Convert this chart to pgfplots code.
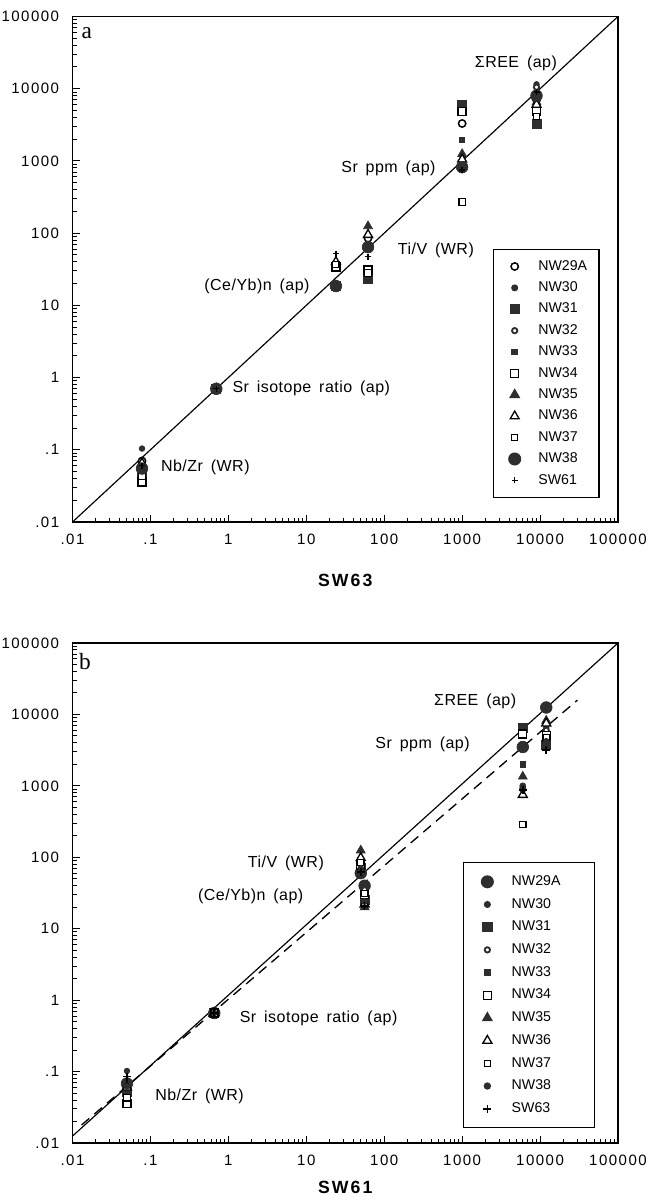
\documentclass[border=0pt]{standalone}
\usepackage{fontspec}
\setmainfont{Liberation Sans}
\newfontfamily\tickfont[LetterSpace=10]{Liberation Sans}
\newfontfamily\annfont[LetterSpace=3,WordSpace=1.6]{Liberation Sans}
\newfontfamily\labfont[LetterSpace=12]{Liberation Sans}
\newfontfamily\seriffont{Liberation Serif}
\usepackage{pgfplots}
\pgfplotsset{compat=1.18}
\definecolor{mk}{gray}{0.18}
\newcommand{\LB}[1]{\makebox[42.8pt][l]{#1}}
\newcommand{\LA}[1]{\makebox[29.2pt][l]{#1}}
\newcommand{\LIa}[1]{\path[draw=none, fill=none] (0pt,0pt) -- (15.2pt,0pt); \draw[#1, only marks] plot coordinates {(7.6pt,0pt)};}
\newcommand{\LIb}[1]{\path[draw=none, fill=none] (0pt,0pt) -- (18.8pt,0pt); \draw[#1, only marks] plot coordinates {(9.4pt,0pt)};}
\pgfplotsset{
  la/.style={only marks, legend image code/.code={\LIa{##1}}},
  lb/.style={only marks, legend image code/.code={\LIb{##1}}},
  mOC/.style={mark=*, mark size=2.2pt, mark options={fill=white, draw=black, line width=0.9pt}},
  mD/.style={mark=*, mark size=1.7pt, mark options={fill=mk, draw=mk}},
  mFS/.style={mark=square*, mark size=2.7pt, mark options={fill=mk, draw=mk}},
  mRD/.style={mark=*, mark size=1.6pt, mark options={fill=white, draw=mk, line width=1.1pt}},
  mSS/.style={mark=square*, mark size=1.6pt, mark options={fill=mk, draw=mk}},
  mOS/.style={mark=square*, mark size=2.4pt, mark options={fill=white, draw=black, line width=0.8pt}},
  mFT/.style={mark=triangle*, mark size=3.1pt, mark options={fill=mk, draw=mk}},
  mOT/.style={mark=triangle*, mark size=3.1pt, mark options={fill=white, draw=black, line width=0.8pt}},
  mSO/.style={mark=square*, mark size=1.9pt, mark options={fill=white, draw=black, line width=0.7pt}},
  mBD/.style={mark=*, mark size=3.5pt, mark options={fill=mk, draw=mk}},
  mP/.style={mark=+, mark size=1.8pt, mark options={draw=black, line width=0.8pt}},
  mPb/.style={mark=+, mark size=2.4pt, mark options={draw=black, line width=1pt}},
}
\begin{document}
\begin{tikzpicture}
\useasboundingbox (0,0) rectangle (389.4pt,-720pt);
% ---------------- panel a ----------------
\begin{axis}[scale only axis, width=327.3pt, height=303.3pt, anchor=north west, at={(43.5pt,-9.9pt)},
    xmode=log, ymode=log, xmin=0.01, xmax=100000, ymin=0.01, ymax=100000,
    xtick={0.01,0.1,1,10,100,1000,10000,100000},
    ytick={0.01,0.1,1,10,100,1000,10000,100000},
    xticklabels={.01,.1,1,10,100,1000,10000,100000},
    yticklabels={.01,.1,1,10,100,1000,10000,100000},
    minor xtick={0.02,0.03,0.04,0.05,0.06,0.07,0.08,0.09,0.2,0.3,0.4,0.5,0.6,0.7,0.8,0.9,2,3,4,5,6,7,8,9,20,30,40,50,60,70,80,90,200,300,400,500,600,700,800,900,2000,3000,4000,5000,6000,7000,8000,9000,20000,30000,40000,50000,60000,70000,80000,90000},
    minor ytick={0.02,0.03,0.04,0.05,0.06,0.07,0.08,0.09,0.2,0.3,0.4,0.5,0.6,0.7,0.8,0.9,2,3,4,5,6,7,8,9,20,30,40,50,60,70,80,90,200,300,400,500,600,700,800,900,2000,3000,4000,5000,6000,7000,8000,9000,20000,30000,40000,50000,60000,70000,80000,90000},
    xtick pos=bottom, ytick pos=left,
    tick label style={font=\tickfont\fontsize{9}{9}\selectfont},
    /pgf/number format/assume math mode=true,
    xticklabel style={yshift=-3.5pt},
    yticklabel style={xshift=-4.5pt},
    axis line style={line width=0.8pt},
    major tick length=4.5pt, minor tick length=2.5pt,
    tick style={black, line width=0.6pt},
    legend cell align=left,
    clip=false,
    xlabel={SW63},
    xlabel style={font=\labfont\bfseries\fontsize{10.6}{10.6}\selectfont, at={(axis description cs:0.5,0)}, anchor=center, yshift=-35pt},
    legend style={at={(0.7703,0.540)}, anchor=north west, draw=black, line width=0.8pt,
    fill=white, inner xsep=5.2pt, inner ysep=4.35pt, row sep=1.4pt, column sep=4.6pt,
    font=\fontsize{8.5}{8.5}\selectfont}]
\addplot[black, line width=0.7pt, forget plot] coordinates {(0.01,0.01) (100000,100000)};
\addplot[la, mOC] coordinates {(0.078,0.070) (0.7,0.7) (24,19) (62,85) (1000,3300) (9000,7000)};
\addlegendentry{\LA{NW29A}}
\addplot[la, mD] coordinates {(0.078,0.104) (0.7,0.7) (24,19.5) (62,66) (1000,800) (9000,11500)};
\addlegendentry{\LA{NW30}}
\addplot[la, mFS] coordinates {(0.078,0.050) (0.7,0.7) (24,18.5) (62,23) (1000,5900) (9000,3300)};
\addlegendentry{\LA{NW31}}
\addplot[la, mRD] coordinates {(0.078,0.060) (0.7,0.7) (24,19) (62,70) (1000,760) (9000,10500)};
\addlegendentry{\LA{NW32}}
\addplot[la, mSS] coordinates {(0.078,0.047) (0.7,0.7) (24,20) (62,25) (1000,1950) (9000,3600)};
\addlegendentry{\LA{NW33}}
\addplot[la, mOS] coordinates {(0.078,0.036) (0.7,0.7) (24,34) (62,31) (1000,4800) (9000,4800)};
\addlegendentry{\LA{NW34}}
\addplot[la, mFT] coordinates {(0.078,0.058) (0.7,0.7) (24,19) (62,125) (1000,1250) (9000,6500)};
\addlegendentry{\LA{NW35}}
\addplot[la, mOT] coordinates {(0.078,0.065) (0.7,0.7) (24,40) (62,95) (1000,1050) (9000,6000)};
\addlegendentry{\LA{NW36}}
\addplot[la, mSO] coordinates {(0.078,0.043) (0.7,0.7) (24,37) (62,28) (1000,270) (9000,4100)};
\addlegendentry{\LA{NW37}}
\addplot[la, mBD] coordinates {(0.078,0.055) (0.7,0.7) (24,18.5) (62,64) (1000,820) (9000,8000)};
\addlegendentry{\LA{NW38}}
\addplot[la, mP] coordinates {(0.078,0.060) (0.7,0.7) (24,52) (62,47) (1000,750) (9000,9000)};
\addlegendentry{\LA{SW61}}
\node[font=\seriffont\fontsize{14}{14}\selectfont] at (axis description cs:0.026,0.967) {a};
\node[font=\annfont\fontsize{9.6}{9.6}\selectfont] at (axis cs:4900,22700) {ΣREE (ap)};
\node[font=\annfont\fontsize{9.6}{9.6}\selectfont, anchor=east] at (axis cs:543,780) {Sr ppm (ap)};
\node[font=\annfont\fontsize{9.6}{9.6}\selectfont, anchor=west] at (axis cs:126,57.8) {Ti/V (WR)};
\node[font=\annfont\fontsize{9.6}{9.6}\selectfont, anchor=east] at (axis cs:13.1,18.3) {(Ce/Yb)n (ap)};
\node[font=\annfont\fontsize{9.6}{9.6}\selectfont, anchor=west] at (axis cs:0.95,0.71) {Sr isotope ratio (ap)};
\node[font=\annfont\fontsize{9.6}{9.6}\selectfont, anchor=west] at (axis cs:0.115,0.058) {Nb/Zr (WR)};
\end{axis}
% ---------------- panel b ----------------
\begin{axis}[scale only axis, width=327.3pt, height=300pt, anchor=north west, at={(43.5pt,-385.8pt)},
    xmode=log, ymode=log, xmin=0.01, xmax=100000, ymin=0.01, ymax=100000,
    xtick={0.01,0.1,1,10,100,1000,10000,100000},
    ytick={0.01,0.1,1,10,100,1000,10000,100000},
    xticklabels={.01,.1,1,10,100,1000,10000,100000},
    yticklabels={.01,.1,1,10,100,1000,10000,100000},
    minor xtick={0.02,0.03,0.04,0.05,0.06,0.07,0.08,0.09,0.2,0.3,0.4,0.5,0.6,0.7,0.8,0.9,2,3,4,5,6,7,8,9,20,30,40,50,60,70,80,90,200,300,400,500,600,700,800,900,2000,3000,4000,5000,6000,7000,8000,9000,20000,30000,40000,50000,60000,70000,80000,90000},
    minor ytick={0.02,0.03,0.04,0.05,0.06,0.07,0.08,0.09,0.2,0.3,0.4,0.5,0.6,0.7,0.8,0.9,2,3,4,5,6,7,8,9,20,30,40,50,60,70,80,90,200,300,400,500,600,700,800,900,2000,3000,4000,5000,6000,7000,8000,9000,20000,30000,40000,50000,60000,70000,80000,90000},
    xtick pos=bottom, ytick pos=left,
    tick label style={font=\tickfont\fontsize{9}{9}\selectfont},
    /pgf/number format/assume math mode=true,
    xticklabel style={yshift=-3.5pt},
    yticklabel style={xshift=-4.5pt},
    axis line style={line width=0.8pt},
    major tick length=4.5pt, minor tick length=2.5pt,
    tick style={black, line width=0.6pt},
    legend cell align=left,
    clip=false,
    xlabel={SW61},
    xlabel style={font=\labfont\bfseries\fontsize{10.6}{10.6}\selectfont, at={(axis description cs:0.5,0)}, anchor=center, yshift=-26.4pt},
    legend style={at={(0.7153,0.562)}, anchor=north west, draw=black, line width=0.8pt,
    fill=white, inner xsep=5pt, inner ysep=5.75pt, row sep=2.18pt, column sep=3.2pt,
    font=\fontsize{8.5}{8.5}\selectfont}]
\addplot[black, line width=0.7pt, forget plot] coordinates {(0.01,0.0125) (100000,100000)};
\addplot[black, line width=0.8pt, dash pattern=on 6pt off 4pt, forget plot] coordinates {(0.0131,0.0179) (30200,15900)};
\addplot[lb, mBD] coordinates {(0.05,0.068) (0.66,0.66) (50,60) (56,40) (6000,3500) (12000,12500)};
\addlegendentry{\LB{NW29A}}
\addplot[lb, mD] coordinates {(0.05,0.102) (0.66,0.66) (50,88) (56,37) (6000,950) (12000,6500)};
\addlegendentry{\LB{NW30}}
\addplot[lb, mFS] coordinates {(0.05,0.052) (0.66,0.66) (50,72) (56,25) (6000,6500) (12000,3800)};
\addlegendentry{\LB{NW31}}
\addplot[lb, mRD] coordinates {(0.05,0.060) (0.66,0.66) (50,82) (56,35) (6000,900) (12000,6000)};
\addlegendentry{\LB{NW32}}
\addplot[lb, mSS] coordinates {(0.05,0.050) (0.66,0.66) (50,75) (56,27) (6000,2000) (12000,3400)};
\addlegendentry{\LB{NW33}}
\addplot[lb, mOS] coordinates {(0.05,0.036) (0.66,0.66) (50,78) (56,30) (6000,5300) (12000,5100)};
\addlegendentry{\LB{NW34}}
\addplot[lb, mFT] coordinates {(0.05,0.055) (0.66,0.66) (50,125) (56,20) (6000,1350) (12000,8200)};
\addlegendentry{\LB{NW35}}
\addplot[lb, mOT] coordinates {(0.05,0.060) (0.66,0.66) (50,98) (56,22) (6000,750) (12000,7500)};
\addlegendentry{\LB{NW36}}
\addplot[lb, mSO] coordinates {(0.05,0.043) (0.66,0.66) (50,85) (56,31) (6000,290) (12000,4700)};
\addlegendentry{\LB{NW37}}
\addplot[lb, mD, mark size=1.8pt] coordinates {(0.05,0.062) (0.66,0.66) (50,70) (56,24) (6000,1000) (12000,4200)};
\addlegendentry{\LB{NW38}}
\addplot[lb, mPb] coordinates {(0.05,0.085) (0.66,0.66) (50,62) (56,21) (6000,880) (12000,3200)};
\addlegendentry{\LB{SW63}}
\node[font=\seriffont\fontsize{14}{14}\selectfont] at (axis description cs:0.023,0.963) {b};
\node[font=\annfont\fontsize{9.6}{9.6}\selectfont] at (axis cs:1470,15300) {ΣREE (ap)};
\node[font=\annfont\fontsize{9.6}{9.6}\selectfont, anchor=east] at (axis cs:1486,3800) {Sr ppm (ap)};
\node[font=\annfont\fontsize{9.6}{9.6}\selectfont, anchor=east] at (axis cs:20,81) {Ti/V (WR)};
\node[font=\annfont\fontsize{9.6}{9.6}\selectfont, anchor=east] at (axis cs:10.9,28.4) {(Ce/Yb)n (ap)};
\node[font=\annfont\fontsize{9.6}{9.6}\selectfont, anchor=west] at (axis cs:1.18,0.557) {Sr isotope ratio (ap)};
\node[font=\annfont\fontsize{9.6}{9.6}\selectfont, anchor=west] at (axis cs:0.097,0.0445) {Nb/Zr (WR)};
\end{axis}
\end{tikzpicture}
\end{document}
